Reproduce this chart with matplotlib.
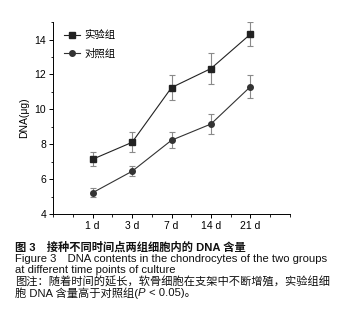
import matplotlib
matplotlib.use("Agg")
import matplotlib.pyplot as plt
from matplotlib.lines import Line2D
from matplotlib.ticker import MultipleLocator

plt.rcParams["font.family"] = ["Liberation Sans", "Noto Sans CJK SC", "DejaVu Sans"]

days = ["1 d", "3 d", "7 d", "14 d", "21 d"]
exp_mean = [7.14, 8.11, 11.25, 12.34, 14.31]
exp_err = [0.41, 0.57, 0.71, 0.87, 0.70]
ctl_mean = [5.22, 6.45, 8.23, 9.16, 11.30]
ctl_err = [0.25, 0.30, 0.46, 0.58, 0.66]
labels = ["实验组", "对照组"]

caption = [
    ("图 3　接种不同时间点两组细胞内的 DNA 含量", "bold"),
    ("Figure 3　DNA contents in the chondrocytes of the two groups", "normal"),
    ("at different time points of culture", "normal"),
    ("图注：随着时间的延长，软骨细胞在支架中不断增殖，实验组细", "normal"),
]
# last caption line, split so the P can be italic
last_parts = [("胞 DNA 含量高于对照组(", "normal"), ("P", "italic"), (" < 0.05)。", "normal")]

fig = plt.figure(figsize=(3.39, 3.26), dpi=100)
ax = fig.add_axes([0.157, 0.3436, 0.698, 0.5884])

x = list(range(1, len(days) + 1))
ax.errorbar(x, exp_mean, yerr=exp_err, color="#222222", ecolor="#8a8a8a",
            elinewidth=0.8, capsize=2, capthick=0.8, lw=0.8,
            marker="s", ms=4)
ax.errorbar(x, ctl_mean, yerr=ctl_err, color="#333333", ecolor="#8a8a8a",
            elinewidth=0.8, capsize=2, capthick=0.8, lw=0.8,
            marker="o", ms=4)

ax.set_xlim(0, 6)
ax.set_ylim(4, 15)
ax.set_xticks(x)
ax.set_xticklabels(days)
ax.xaxis.set_minor_locator(MultipleLocator(0.5))
ax.yaxis.set_major_locator(MultipleLocator(2))
ax.yaxis.set_minor_locator(MultipleLocator(1))
ax.tick_params(labelsize=7.5, length=3, width=0.7, pad=2)
ax.tick_params(which="minor", length=1.8, width=0.6)
ax.spines["top"].set_visible(False)
ax.spines["right"].set_visible(False)
ax.spines["left"].set_linewidth(0.7)
ax.spines["bottom"].set_linewidth(0.7)
ax.set_ylabel("DNA(μg)", fontsize=7.5, labelpad=4)

handles = [
    Line2D([], [], color="#222222", lw=0.8, marker="s", ms=4),
    Line2D([], [], color="#333333", lw=0.8, marker="o", ms=4),
]
ax.legend(handles, labels, loc="upper left", frameon=False, fontsize=7.5,
          handlelength=1.5, handletextpad=0.4, labelspacing=0.75,
          borderaxespad=0.0, bbox_to_anchor=(0.03, 0.98))

y0 = 326 - 247.5
step = 11.4
fs = 8.1
for i, (line, weight) in enumerate(caption):
    fig.text(15 / 339, (y0 - i * step) / 326, line, fontsize=fs,
             fontweight=weight, va="center", ha="left", color="#111111")

renderer = fig.canvas.get_renderer()
xpos = 15 / 339
ypos = (y0 - len(caption) * step) / 326
for part, style in last_parts:
    t = fig.text(xpos, ypos, part, fontsize=fs, fontstyle=style,
                 va="center", ha="left", color="#111111")
    bb = t.get_window_extent(renderer=renderer)
    xpos += bb.width / fig.bbox.width

fig.savefig("out.png", dpi=100)
